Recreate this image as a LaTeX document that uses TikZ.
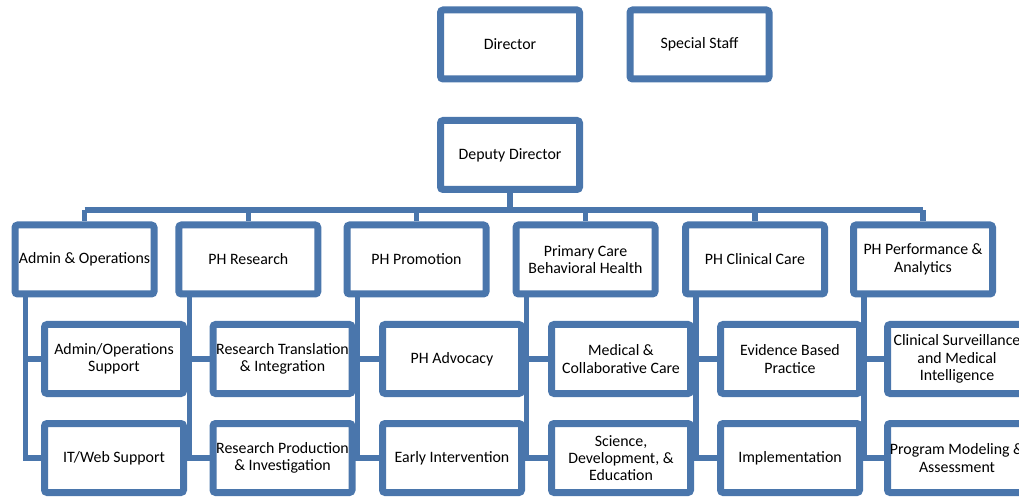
\documentclass[tikz,border=0pt]{standalone}
\usepackage{fontspec}
\setmainfont{Carlito}
\usepackage{tikz}
\usetikzlibrary{shadows,backgrounds}

\definecolor{orgblue}{HTML}{4A76AC}

\tikzset{
    unit/.style={rectangle,draw=orgblue,line width=5.25pt,fill=white,rounded corners=2pt,
        minimum width=104.25pt,minimum height=51.75pt,align=center,inner sep=0pt,
        font=\fontsize{11.9pt}{13pt}\selectfont,
        drop shadow={shadow xshift=1.2pt,shadow yshift=-1.2pt,opacity=0.25,fill=black}},
    link/.style={draw=orgblue,line width=4pt}
}

\begin{document}
\begin{tikzpicture}[x=0.75pt,y=-0.75pt]
    \path[use as bounding box,clip] (0,0) rectangle (1019,498);

    % Top level
    \node[unit] (director) at (510,44.5) {Director};
    \node[unit] (staff) at (699.5,44.5) {Special Staff};
    \node[unit] (deputy) at (510,155) {Deputy Director};

    % Branches
    \node[unit] (admin) at (84.5,259.5) {Admin \& Operations};
    \node[unit] (research) at (248.3,259.5) {PH Research};
    \node[unit] (promotion) at (416.5,259.5) {PH Promotion};
    \node[unit] (primary) at (585.5,259.5) {Primary Care\\Behavioral Health};
    \node[unit] (clinical) at (755,259.5) {PH Clinical Care};
    \node[unit] (perf) at (923,259.5) {PH Performance \&\\Analytics};

    % Sections
    \node[unit] (adminsup) at (114,359) {Admin/Operations\\Support};
    \node[unit] (itweb) at (114,458) {IT/Web Support};
    \node[unit] (restrans) at (282.5,359) {Research Translation\\\& Integration};
    \node[unit] (resprod) at (282.5,458) {Research Production\\\& Investigation};
    \node[unit] (advocacy) at (452,359) {PH Advocacy};
    \node[unit] (early) at (452,458) {Early Intervention};
    \node[unit] (medical) at (621,359) {Medical \&\\Collaborative Care};
    \node[unit] (science) at (621,458) {Science,\\Development, \&\\Education};
    \node[unit] (evidence) at (790,359) {Evidence Based\\Practice};
    \node[unit] (implement) at (790,458) {Implementation};
    \node[unit] (surveil) at (957,359) {Clinical Surveillance\\and Medical\\Intelligence};
    \node[unit] (modeling) at (957,458) {Program Modeling \&\\Assessment};

    \begin{scope}[on background layer]
    % Deputy to branches
    \coordinate (bar) at (0,210);
    \draw[link] (deputy.south) -- (deputy.south |- bar);
    \draw[link] (admin.north |- bar) -- (perf.north |- bar);
    \draw[link] (admin.north |- bar) -- (admin.north);
    \draw[link] (research.north |- bar) -- (research.north);
    \draw[link] (promotion.north |- bar) -- (promotion.north);
    \draw[link] (primary.north |- bar) -- (primary.north);
    \draw[link] (clinical.north |- bar) -- (clinical.north);
    \draw[link] (perf.north |- bar) -- (perf.north);

    % Branches to sections
    \draw[link] ([xshift=10.5pt]admin.south west) |- (itweb.west);
    \draw[link] ([xshift=10.5pt]admin.south west) |- (adminsup.west);
    \draw[link] ([xshift=10.5pt]research.south west) |- (resprod.west);
    \draw[link] ([xshift=10.5pt]research.south west) |- (restrans.west);
    \draw[link] ([xshift=10.5pt]promotion.south west) |- (early.west);
    \draw[link] ([xshift=10.5pt]promotion.south west) |- (advocacy.west);
    \draw[link] ([xshift=10.5pt]primary.south west) |- (science.west);
    \draw[link] ([xshift=10.5pt]primary.south west) |- (medical.west);
    \draw[link] ([xshift=10.5pt]clinical.south west) |- (implement.west);
    \draw[link] ([xshift=10.5pt]clinical.south west) |- (evidence.west);
    \draw[link] ([xshift=10.5pt]perf.south west) |- (modeling.west);
    \draw[link] ([xshift=10.5pt]perf.south west) |- (surveil.west);
    \end{scope}
\end{tikzpicture}
\end{document}
